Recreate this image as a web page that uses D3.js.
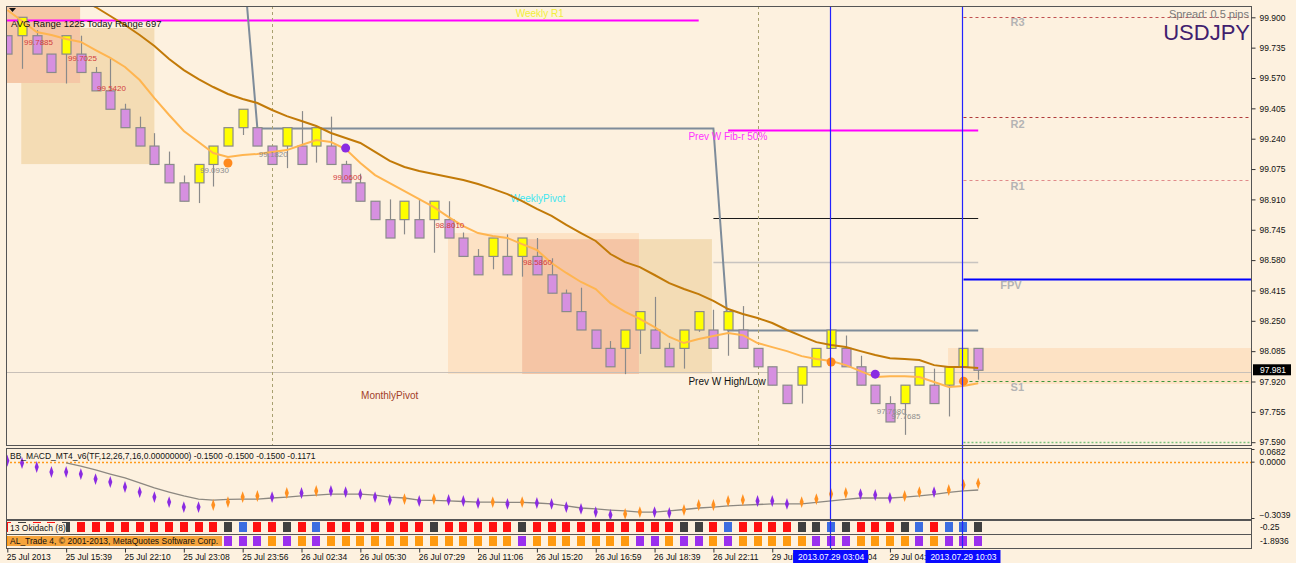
<!DOCTYPE html>
<html>
<head>
<meta charset="utf-8">
<script src="https://cdn.jsdelivr.net/npm/d3@7"></script>
<style>
body { margin:0; background:#fdf1df; }
svg text { font-family:"Liberation Sans", Arial, sans-serif; }
</style>
</head>
<body>
<div id="vis"></div>
<script>
// candles (USDJPY, one per bar)
let opens  = [99.8,99.8,99.8,99.7,99.7,99.7,99.6,99.5,99.4,99.3,99.2,99.1,99.0,99.0,99.1,99.2,99.3,99.3,99.2,99.2,99.2,99.2,99.2,99.1,99.0,98.9,98.8,98.8,98.8,98.8,98.8,98.7,98.6,98.6,98.6,98.6,98.6,98.5,98.4,98.3,98.2,98.1,98.1,98.2,98.2,98.1,98.1,98.2,98.2,98.2,98.2,98.1,98.0,97.9,97.9,98.0,98.1,98.1,98.0,97.9,97.8,97.8,97.9,97.9,97.9,98.0,98.1]
let closes = [99.7,99.9,99.7,99.6,99.8,99.6,99.5,99.4,99.3,99.2,99.1,99.0,98.9,99.1,99.2,99.3,99.4,99.2,99.1,99.3,99.1,99.3,99.1,99.0,98.9,98.8,98.7,98.9,98.7,98.9,98.7,98.6,98.5,98.7,98.5,98.7,98.5,98.4,98.3,98.2,98.1,98.0,98.2,98.3,98.1,98.0,98.2,98.3,98.1,98.3,98.1,98.0,97.9,97.8,98.0,98.1,98.2,98.0,97.9,97.8,97.7,97.9,98.0,97.8,98.0,98.1,97.981]
let highs  = [99.8,99.9,99.83,99.7,99.8,99.8,99.63,99.68,99.43,99.36,99.27,99.17,99.04,99.1,99.2,99.3,99.4,99.3,99.2,99.3,99.39,99.3,99.36,99.12,99.05,98.9,98.91,98.9,98.91,98.9,98.9,98.73,98.64,98.7,98.72,98.7,98.7,98.59,98.42,98.43,98.2,98.14,98.2,98.3,98.38,98.13,98.2,98.3,98.31,98.3,98.33,98.1,98.0,97.9,98.0,98.1,98.2,98.17,98.06,97.9,97.84,97.9,98.0,97.99,98.0,98.1,98.1]
let lows   = [99.7,99.62,99.7,99.6,99.54,99.6,99.5,99.4,99.3,99.2,99.1,99.0,98.9,98.89,98.98,99.2,99.26,99.2,99.1,99.08,99.1,99.11,99.1,99.0,98.9,98.8,98.7,98.72,98.7,98.62,98.7,98.6,98.5,98.53,98.5,98.49,98.5,98.4,98.3,98.2,98.1,98.0,97.96,98.07,98.1,98.0,97.99,98.19,98.1,98.06,98.1,98.0,97.9,97.8,97.8,98.0,98.1,98.0,97.9,97.8,97.7,97.63,97.9,97.8,97.73,98.0,97.93]

// moving averages
let slowMA = [100.244,100.195,100.147,100.097,100.048,100.0,99.956,99.907,99.858,99.804,
  99.744,99.673,99.613,99.564,99.521,99.483,99.456,99.434,99.396,99.363,
  99.336,99.309,99.271,99.244,99.217,99.168,99.119,99.086,99.064,99.048,
  99.032,99.015,98.994,98.967,98.939,98.901,98.858,98.82,98.771,98.727,
  98.684,98.613,98.569,98.542,98.499,98.455,98.423,98.395,98.358,98.314,
  98.287,98.265,98.238,98.2,98.167,98.134,98.118,98.107,98.085,98.064,
  98.047,98.042,98.037,98.009,97.999,97.999,97.993]
let fastMA = [99.94,99.88,99.82,99.804,99.782,99.766,99.722,99.679,99.63,99.559,
  99.461,99.369,99.282,99.222,99.162,99.141,99.151,99.157,99.168,99.178,
  99.206,99.233,99.222,99.184,99.108,99.042,98.999,98.955,98.912,98.868,
  98.814,98.765,98.727,98.711,98.7,98.667,98.635,98.564,98.51,98.461,
  98.423,98.346,98.298,98.26,98.216,98.162,98.129,98.151,98.167,98.183,
  98.172,98.129,98.107,98.085,98.058,98.042,98.031,98.009,97.976,97.944,
  97.949,97.949,97.944,97.917,97.89,97.895,97.911]

// BB_MACD
let macd = [0.005,-0.007,-0.029,-0.056,-0.056,-0.067,-0.094,-0.11,-0.137,-0.164,
  -0.191,-0.218,-0.245,-0.245,-0.234,-0.218,-0.191,-0.185,-0.191,-0.169,
  -0.169,-0.158,-0.158,-0.164,-0.175,-0.191,-0.207,-0.202,-0.212,-0.202,
  -0.207,-0.212,-0.223,-0.218,-0.228,-0.218,-0.223,-0.228,-0.245,-0.255,
  -0.272,-0.288,-0.282,-0.272,-0.272,-0.277,-0.261,-0.234,-0.234,-0.212,
  -0.207,-0.212,-0.212,-0.228,-0.218,-0.202,-0.175,-0.169,-0.175,-0.18,
  -0.196,-0.185,-0.164,-0.164,-0.153,-0.126,-0.117]
let macdSignal = [null,null,null,null,-0.007,-0.024,-0.045,-0.067,-0.088,-0.115,
  -0.142,-0.164,-0.185,-0.202,-0.207,-0.204,-0.202,-0.202,-0.196,-0.191,
  -0.185,-0.18,-0.175,-0.175,-0.175,-0.18,-0.191,-0.196,-0.207,-0.209,
  -0.212,-0.215,-0.218,-0.218,-0.22,-0.22,-0.223,-0.228,-0.239,-0.25,
  -0.255,-0.261,-0.266,-0.272,-0.272,-0.266,-0.258,-0.25,-0.245,-0.239,
  -0.234,-0.231,-0.228,-0.228,-0.228,-0.22,-0.212,-0.204,-0.196,-0.196,
  -0.196,-0.191,-0.185,-0.177,-0.166,-0.158,-0.153]
let macdDir = ['p','p','p','p','p','p','p','p','p','p','p','p','p','p','o','o','o','o','p','o',
  'p','o','p','p','p','p','p','o','p','o','p','p','p','o','p','o','p','p','p','p',
  'p','p','o','o','p','p','o','o','o','o','o','p','p','p','o','o','o','o','p','p',
  'p','o','o','p','o','o','o']

// signal strips
let okidach = ['r','k','r','r','k','r','r','r','r','r','r','r','r','r','r','k','b','r','r','k',
  'r','b','r','r','r','r','r','r','r','k','r','r','r','r','r','k','r','r','r','r',
  'r','r','r','r','r','r','k','k','r','b','r','r','r','r','k','k','b','k','r','r',
  'r','k','b','r','b','b','k']
let alTrade = ['o','o','o','o','o','o','o','o','o','o','o','o','o','o','p','p','p','p','o','p',
  'o','p','o','o','o','o','o','o','o','o','o','o','o','o','o','p','o','o','o','o',
  'o','o','o','p','p','o','p','p','o','p','o','o','o','o','o','p','p','p','o','o',
  'o','o','p','o','p','p','p']

// axis labels
let priceTicks = [99.900,99.735,99.570,99.405,99.240,99.075,98.910,98.745,98.580,98.415,98.250,98.085,97.920,97.755,97.590]
let timeTickIdx = [0,4,8,12,16,20,24,28,32,36,40,44,48,52,56,60]
let timeLabels = ['25 Jul 2013','25 Jul 15:39','25 Jul 22:10','25 Jul 23:08','25 Jul 23:56','26 Jul 02:34','26 Jul 05:30','26 Jul 07:29','26 Jul 11:06','26 Jul 15:20','26 Jul 16:59','26 Jul 18:39','26 Jul 22:11','29 Jul 00:41','29 Jul 03:04','29 Jul 04:39']
let cursorIdx = [56, 65]
let cursorLabels = ['2013.07.29 03:04','2013.07.29 10:03']

// levels: name, price, first bar, last bar
let levelNames  = ['weeklyR1','fib50','prevHL','black','lgray','R3','R2','R1','FPV','S1','S2']
let levelPrices = [99.883, 99.287, 97.973, 98.807, 98.571, 99.902, 99.356, 99.017, 98.475, 97.922, 97.59]
let levelFrom   = [-1, 49, -1, 48, 48, 65, 65, 65, 65, 65, 65]
let levelTo     = [47, 66, 90, 66, 66, 90, 90, 90, 90, 90, 90]
// weekly pivot step line (bar, price)
let stepBars   = [16.3, 17, 48, 49, 66]
let stepPrices = [99.96, 99.298, 99.298, 98.2, 98.2]
// zones: bar from/to, price top/bottom
let zoneFrom = [0.95, -1, 29.96, 35, 42.94, 63.95]
let zoneTo   = [10, 4.95, 42.94, 42.94, 47.9, 90]
let zoneTop  = [99.842, 100.1, 98.727, 98.694, 98.694, 98.102]
let zoneBot  = [99.102, 99.543, 97.961, 97.961, 97.963, 97.907]
// price tags next to candles
let tagBars   = [1.14, 4.13, 6.1, 17.1, 13.1, 22.14, 29.1, 35.06, 59.1, 60.1]
let tagPrices = [99.766, 99.678, 99.515, 99.156, 99.069, 99.031, 98.77, 98.569, 97.76, 97.733]
let tagTexts  = ['99.7885','99.7025','99.5420','99.1820','99.0930','99.0600','98.8010','98.5860','97.7680','97.7685']
let tagIsHigh = [1,1,1,0,0,1,1,1,0,0]
// signal dots
let dotBars   = [15, 56, 65, 23, 59]
let dotPrices = [99.108, 98.026, 97.922, 99.189, 97.96]
let dotKind   = ['o','o','o','p','p']

let svgWidth = 1296
let svgHeight = 563
let plot = {left:6, right:1251, top:6, bottom:445}
let macdBox = {top:448, bottom:519}
let strip1 = {top:520, bottom:534}
let strip2 = {top:534, bottom:548}

let svg = d3.select('#vis')
    .append('svg')
    .attr('width', svgWidth)
    .attr('height', svgHeight)

svg.append('rect')
    .attr('width', svgWidth).attr('height', svgHeight)
    .attr('fill', '#fdf1df')

// scales
let x = d3.scaleLinear().domain([0, 66]).range([7.3, 978.2])
let y = d3.scaleLinear().domain([97.59, 99.9]).range([442.2, 17.3])
let yM = d3.scaleLinear().domain([-0.3039, 0.0682]).range([macdBox.bottom - 1, macdBox.top + 1])

svg.append('clipPath').attr('id', 'clipMain')
    .append('rect')
    .attr('x', plot.left).attr('y', plot.top)
    .attr('width', plot.right - plot.left).attr('height', plot.bottom - plot.top)
svg.append('clipPath').attr('id', 'clipAll')
    .append('rect')
    .attr('x', plot.left).attr('y', plot.top)
    .attr('width', plot.right - plot.left).attr('height', strip2.bottom - plot.top)

let main = svg.append('g').attr('clip-path', 'url(#clipMain)')

// zones
let zoneColors = ['#f4dcb4', '#f5c7a6', '#fde2c4', '#f5c5a5', '#f3dcb5', '#fde2c4']
main.selectAll('rect.zone')
    .data(zoneFrom)
    .join('rect')
    .attr('class', 'zone')
    .attr('x', (d, i) => x(d))
    .attr('y', (d, i) => y(zoneTop[i]))
    .attr('width', (d, i) => x(zoneTo[i]) - x(d))
    .attr('height', (d, i) => y(zoneBot[i]) - y(zoneTop[i]))
    .attr('fill', (d, i) => zoneColors[i])

// horizontal levels
let levelStyle = {
    weeklyR1: {c:'#ff00ff', w:2},
    fib50: {c:'#ff00ff', w:2},
    prevHL: {c:'#c8c0b8', w:1},
    black: {c:'#1a1a1a', w:1},
    lgray: {c:'#c8c4c0', w:1.5},
    R3: {c:'#c05050', w:1, dash:'3,3'},
    R2: {c:'#b03a3a', w:1, dash:'3,3'},
    R1: {c:'#e08a8a', w:1, dash:'3,3'},
    FPV: {c:'#0000ff', w:2},
    S1: {c:'#3c963c', w:1, dash:'3,3'},
    S2: {c:'#7cc07c', w:1.5, dash:'2,2'}
}
main.selectAll('line.level')
    .data(levelNames)
    .join('line')
    .attr('class', 'level')
    .attr('x1', (d, i) => x(levelFrom[i]))
    .attr('x2', (d, i) => x(levelTo[i]))
    .attr('y1', (d, i) => Math.round(y(levelPrices[i])) + 0.5)
    .attr('y2', (d, i) => Math.round(y(levelPrices[i])) + 0.5)
    .attr('stroke', d => levelStyle[d].c)
    .attr('stroke-width', d => levelStyle[d].w)
    .attr('stroke-dasharray', d => levelStyle[d].dash || null)

// pivot step line
main.append('path')
    .datum(stepBars)
    .attr('d', d3.line().x(d => x(d)).y((d, i) => Math.round(y(stepPrices[i])) + 0.5))
    .attr('fill', 'none')
    .attr('stroke', '#7e8c9a')
    .attr('stroke-width', 2)

// level labels
let lvlText = [
    {t:'Weekly R1', i:0, bar:36.2, dy:-3, c:'#f2ee3a', anchor:'middle', size:10, bold:false},
    {t:'Prev W Fib-r 50%', i:1, bar:46.3, dy:10, c:'#ff33ff', anchor:'start', size:10, bold:false},
    {t:'Prev W High/Low', i:2, bar:46.3, dy:13, c:'#111', anchor:'start', size:10, bold:false},
    {t:'R3', i:5, bar:68.2, dy:9, c:'#b4b4b4', anchor:'start', size:11, bold:true},
    {t:'R2', i:6, bar:68.2, dy:11, c:'#b4b4b4', anchor:'start', size:11, bold:true},
    {t:'R1', i:7, bar:68.2, dy:10, c:'#b4b4b4', anchor:'start', size:11, bold:true},
    {t:'FPV', i:8, bar:67.5, dy:10, c:'#b4b4b4', anchor:'start', size:11, bold:true},
    {t:'S1', i:9, bar:68.2, dy:10, c:'#b4b4b4', anchor:'start', size:11, bold:true}
]
main.selectAll('text.lvl')
    .data(lvlText)
    .join('text')
    .attr('class', 'lvl')
    .attr('x', d => x(d.bar))
    .attr('y', d => y(levelPrices[d.i]) + d.dy)
    .attr('text-anchor', d => d.anchor)
    .attr('font-size', d => d.size)
    .attr('font-weight', d => d.bold ? 'bold' : 'normal')
    .attr('fill', d => d.c)
    .text(d => d.t)

main.append('text')
    .attr('x', x(34.2)).attr('y', y(98.895))
    .attr('font-size', 10).attr('fill', '#3fe6f0')
    .text('WeeklyPivot')
main.append('text')
    .attr('x', x(24.05)).attr('y', y(97.825))
    .attr('font-size', 10).attr('fill', '#a2402a')
    .text('MonthlyPivot')

// dotted vertical separators
main.selectAll('line.vsep')
    .data([18, 51])
    .join('line')
    .attr('class', 'vsep')
    .attr('x1', d => Math.round(x(d)) + 0.5).attr('x2', d => Math.round(x(d)) + 0.5)
    .attr('y1', plot.top).attr('y2', plot.bottom)
    .attr('stroke', '#a8a070')
    .attr('stroke-dasharray', '3,3')

// candles
let bars = d3.range(opens.length)
main.selectAll('line.wick')
    .data(bars)
    .join('line')
    .attr('class', 'wick')
    .attr('x1', d => Math.round(x(d)) + 0.5).attr('x2', d => Math.round(x(d)) + 0.5)
    .attr('y1', d => y(highs[d])).attr('y2', d => y(lows[d]))
    .attr('stroke', '#8a8a8a')
    .attr('stroke-width', 1.2)

main.selectAll('rect.body')
    .data(bars)
    .join('rect')
    .attr('class', 'body')
    .attr('x', d => Math.round(x(d)) - 4)
    .attr('y', d => y(Math.max(opens[d], closes[d])))
    .attr('width', 9)
    .attr('height', d => Math.abs(y(opens[d]) - y(closes[d])))
    .attr('fill', d => closes[d] > opens[d] ? '#ffff00' : '#d690e0')
    .attr('stroke', '#8a8a8a')
    .attr('stroke-width', 1.2)

// moving averages
let maLine = arr => d3.line().x((d, i) => x(i)).y(d => y(d))(arr)
main.append('path')
    .attr('d', maLine(slowMA))
    .attr('fill', 'none').attr('stroke', '#c27a08').attr('stroke-width', 2)
main.append('path')
    .attr('d', maLine(fastMA))
    .attr('fill', 'none').attr('stroke', '#ffb550').attr('stroke-width', 2)

// price tags
main.selectAll('text.tag')
    .data(tagTexts)
    .join('text')
    .attr('class', 'tag')
    .attr('x', (d, i) => x(tagBars[i]))
    .attr('y', (d, i) => y(tagPrices[i]) + 3)
    .attr('font-size', 8)
    .attr('fill', (d, i) => tagIsHigh[i] ? '#d23c3c' : '#8c8c8c')
    .text(d => d)

// signal dots
main.selectAll('circle.sig')
    .data(dotBars)
    .join('circle')
    .attr('class', 'sig')
    .attr('cx', d => x(d))
    .attr('cy', (d, i) => y(dotPrices[i]))
    .attr('r', 4.5)
    .attr('fill', (d, i) => dotKind[i] == 'o' ? '#ff8a1e' : '#8a2be2')

// header texts
svg.append('path')
    .attr('d', 'M9,8 L16,8 L12.5,12 Z')
    .attr('fill', '#111')
svg.append('text')
    .attr('x', 11).attr('y', 27)
    .attr('font-size', 9.5).attr('fill', '#111')
    .text('AVG Range 1225')
svg.append('text')
    .attr('x', 87).attr('y', 27)
    .attr('font-size', 9.5).attr('fill', '#111')
    .text('Today Range 697')
svg.append('text')
    .attr('x', 1249).attr('y', 18)
    .attr('text-anchor', 'end')
    .attr('font-size', 11).attr('fill', '#7a7a7a')
    .text('Spread: 0.5 pips')
svg.append('text')
    .attr('x', 1250).attr('y', 40)
    .attr('text-anchor', 'end')
    .attr('font-size', 22).attr('fill', '#40206e')
    .text('USDJPY')

// macd panel
let macdG = svg.append('g').attr('clip-path', 'url(#clipAll)')
macdG.append('line')
    .attr('x1', plot.left).attr('x2', plot.right)
    .attr('y1', Math.round(yM(0)) + 0.5).attr('y2', Math.round(yM(0)) + 0.5)
    .attr('stroke', '#ff9a1a').attr('stroke-width', 1.5)
    .attr('stroke-dasharray', '2,2')
macdG.append('path')
    .attr('d', d3.line().defined(d => d != null).x((d, i) => x(i)).y(d => yM(d))(macdSignal))
    .attr('fill', 'none').attr('stroke', '#8c8880').attr('stroke-width', 1.3)
macdG.selectAll('path.dia')
    .data(macd)
    .join('path')
    .attr('class', 'dia')
    .attr('transform', (d, i) => `translate(${x(i)},${yM(d)}) scale(0.75,1.25)`)
    .attr('d', d3.symbol(d3.symbolDiamond, 26))
    .attr('fill', (d, i) => macdDir[i] == 'o' ? '#ff9020' : '#8a2be2')

// strips
let okColor = {r:'#ff1010', k:'#404040', b:'#3c6de0'}
let alColor = {o:'#ff9a10', p:'#9a30ee'}
macdG.selectAll('rect.ok')
    .data(okidach)
    .join('rect')
    .attr('class', 'ok')
    .attr('x', (d, i) => Math.round(x(i)) - 4)
    .attr('y', strip1.top + 2)
    .attr('width', 8).attr('height', 10)
    .attr('fill', d => okColor[d])
macdG.selectAll('rect.al')
    .data(alTrade)
    .join('rect')
    .attr('class', 'al')
    .attr('x', (d, i) => Math.round(x(i)) - 4)
    .attr('y', strip2.top + 2)
    .attr('width', 8).attr('height', 10)
    .attr('fill', d => alColor[d])

// cursor lines through all panels
svg.selectAll('line.cursor')
    .data(cursorIdx)
    .join('line')
    .attr('class', 'cursor')
    .attr('x1', d => Math.round(x(d)) - 0.5).attr('x2', d => Math.round(x(d)) - 0.5)
    .attr('y1', plot.top).attr('y2', strip2.bottom)
    .attr('stroke', '#2222ff').attr('stroke-width', 1.2)

// indicator labels
svg.append('text')
    .attr('x', 10).attr('y', 459)
    .attr('font-size', 8.5).attr('fill', '#111')
    .text('BB_MACD_MT4_v6(TF,12,26,7,16,0.00000000) -0.1500 -0.1500 -0.1500 -0.1171')
svg.append('rect')
    .attr('x', 8).attr('y', strip1.top + 3).attr('width', 58).attr('height', 9)
    .attr('fill', '#fdf1df')
svg.append('text')
    .attr('x', 10).attr('y', strip1.top + 11)
    .attr('font-size', 8.5).attr('fill', '#111')
    .text('13 Okidach (8)')
svg.append('rect')
    .attr('x', 8).attr('y', strip2.top + 2).attr('width', 214).attr('height', 10)
    .attr('fill', '#f6a43c')
svg.append('text')
    .attr('x', 10).attr('y', strip2.top + 10)
    .attr('font-size', 8.5).attr('fill', '#111')
    .text('AL_Trade 4, © 2001-2013, MetaQuotes Software Corp.')

// panel frames
let frames = [
    [plot.top, plot.bottom],
    [macdBox.top, macdBox.bottom],
    [strip1.top, strip1.bottom],
    [strip2.top, strip2.bottom]
]
svg.selectAll('rect.frame')
    .data(frames)
    .join('rect')
    .attr('class', 'frame')
    .attr('x', plot.left + 0.5).attr('y', d => d[0] + 0.5)
    .attr('width', plot.right - plot.left).attr('height', d => d[1] - d[0])
    .attr('fill', 'none').attr('stroke', '#555')

// price axis
let yAxis = d3.axisRight(y)
    .tickValues(priceTicks)
    .tickSize(4)
    .tickFormat(d3.format('.3f'))
svg.append('g')
    .attr('transform', `translate(${plot.right + 0.5},0)`)
    .call(yAxis)
    .call(g => g.select('.domain').remove())
    .call(g => g.selectAll('text').attr('font-size', 8.5).attr('fill', '#111').attr('x', 8))
    .call(g => g.selectAll('line').attr('stroke', '#333'))

// current price tag
let lastClose = closes[closes.length - 1]
svg.append('rect')
    .attr('x', plot.right + 2).attr('y', y(lastClose) - 6)
    .attr('width', 38).attr('height', 11)
    .attr('fill', '#000')
svg.append('text')
    .attr('x', plot.right + 9).attr('y', y(lastClose) + 3)
    .attr('font-size', 8.5).attr('fill', '#fff')
    .text(lastClose.toFixed(3))

// macd axis labels
let macdAxis = d3.axisRight(yM)
    .tickValues([0.0682, 0, -0.3039])
    .tickSize(3)
    .tickFormat(d3.format('.4f'))
svg.append('g')
    .attr('transform', `translate(${plot.right + 0.5},0)`)
    .call(macdAxis)
    .call(g => g.select('.domain').remove())
    .call(g => g.selectAll('text').attr('font-size', 8.5).attr('fill', '#111').attr('x', 8)
        .attr('dy', d => d > 0.05 ? '0.6em' : (d < -0.3 ? '-0.1em' : '0.32em')))
    .call(g => g.selectAll('line').attr('stroke', '#333'))
svg.append('text')
    .attr('x', plot.right + 9).attr('y', 530)
    .attr('font-size', 8.5).attr('fill', '#111').text('-0.25')
svg.append('text')
    .attr('x', plot.right + 9).attr('y', 544)
    .attr('font-size', 8.5).attr('fill', '#111').text('-1.8936')

// time axis
let xAxis = d3.axisBottom(x)
    .tickValues(timeTickIdx)
    .tickSize(4)
    .tickFormat((d, i) => timeLabels[i])
svg.append('g')
    .attr('transform', `translate(0,${strip2.bottom + 0.5})`)
    .call(xAxis)
    .call(g => g.select('.domain').remove())
    .call(g => g.selectAll('text').attr('font-size', 8.5).attr('fill', '#111')
        .attr('text-anchor', 'start').attr('x', -1).attr('y', 5).attr('dy', '0.71em'))
    .call(g => g.selectAll('line').attr('stroke', '#333'))

// cursor time tags
svg.selectAll('rect.ctag')
    .data(cursorIdx)
    .join('rect')
    .attr('class', 'ctag')
    .attr('x', d => x(d) - 38).attr('y', strip2.bottom + 2)
    .attr('width', 75).attr('height', 13)
    .attr('fill', '#0a0aff')
svg.selectAll('text.ctag')
    .data(cursorIdx)
    .join('text')
    .attr('class', 'ctag')
    .attr('x', d => x(d)).attr('y', strip2.bottom + 12)
    .attr('text-anchor', 'middle')
    .attr('font-size', 8.5).attr('fill', '#fff')
    .text((d, i) => cursorLabels[i])
</script>
</body>
</html>
